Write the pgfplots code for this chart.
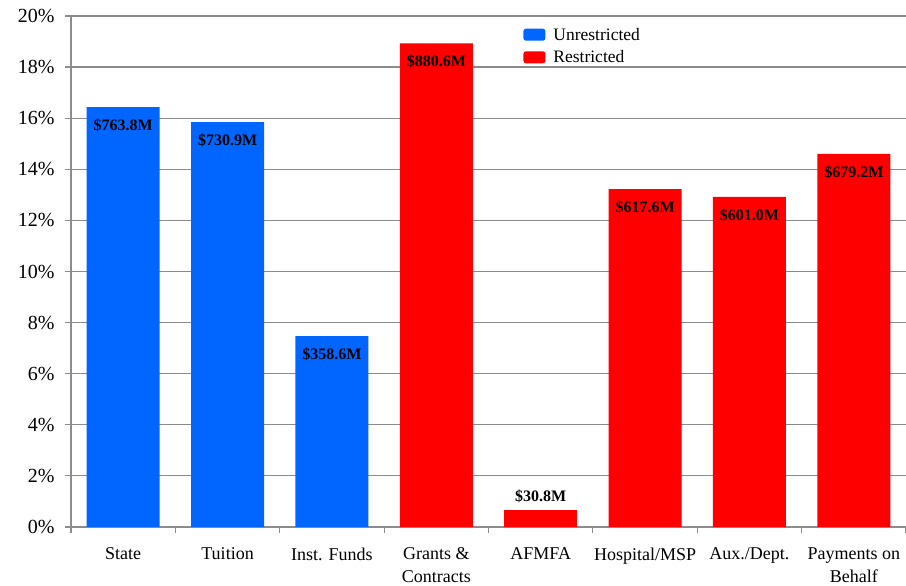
\documentclass[border=0pt]{standalone}
\usepackage{pgfplots}
\pgfplotsset{compat=1.18}
\usepackage{fontspec}
\setmainfont{Liberation Serif}
\definecolor{unres}{HTML}{0066FF}
\definecolor{res}{HTML}{FF0000}
\definecolor{gridc}{HTML}{8C8C8C}
\begin{document}
\begin{tikzpicture}
\begin{axis}[
  scale only axis,
  width=835pt, height=511pt,
  ymin=0, ymax=20,
  xmin=-0.5, xmax=7.5,
  ytick={0,2,...,20},
  yticklabel={\pgfmathprintnumber{\tick}\%},
  /pgf/number format/assume math mode=true,
  yticklabel style={font=\fontsize{20}{24}\selectfont, xshift=-7pt},
  xtick={0,...,7},
  xticklabels={State, Tuition, Inst. Funds, Grants \&\\Contracts, AFMFA, Hospital/MSP, Aux./Dept., Payments on\\Behalf},
  xticklabel style={font=\fontsize{18}{23}\selectfont, align=center, yshift=-11pt},
  minor xtick={-0.5,0.5,...,7.5},
  axis x line*=bottom, axis y line*=left,
  axis line style={gridc, line width=1.2pt},
  ymajorgrids, major grid style={gridc, line width=1.2pt},
  tick style={gridc, line width=1.2pt},
  major x tick style={draw=none},
  tick align=outside,
  major tick length=6pt, minor tick length=6pt,
  ybar, bar width=0.7, bar shift=0pt,
  clip=false,
  point meta=explicit symbolic,
  nodes near coords,
  nodes near coords style={font=\bfseries\fontsize{16}{19}\selectfont, anchor=north, yshift=-8pt, text=black},
  legend style={draw=none, fill=none, at={(0.538,0.985)}, anchor=north west,
    font=\fontsize{17.5}{21}\selectfont, row sep=5pt},
  legend cell align=left,
  legend image code/.code={\fill[#1, rounded corners=2.5pt] (0pt,-6pt) rectangle (22pt,6pt);},
  /tikz/every odd column/.append style={column sep=6pt},
]
\addplot[fill=unres, draw=none] coordinates {
  (0,16.43) [\$763.8M]
  (1,15.85) [\$730.9M]
  (2,7.47) [\$358.6M]
};
\addplot[fill=res, draw=none] coordinates {
  (3,18.93) [\$880.6M]
  (5,13.22) [\$617.6M]
  (6,12.92) [\$601.0M]
  (7,14.6) [\$679.2M]
};
\addplot[fill=res, draw=none, forget plot,
  nodes near coords style={anchor=south, yshift=11pt}] coordinates {
  (4,0.68) [\$30.8M]
};
\legend{Unrestricted, Restricted}
\end{axis}
\pgfresetboundingbox
\path[use as bounding box] ([shift={(-71pt,-59pt)}]current axis.south west) rectangle ++(906pt,586pt);
\end{tikzpicture}
\end{document}
